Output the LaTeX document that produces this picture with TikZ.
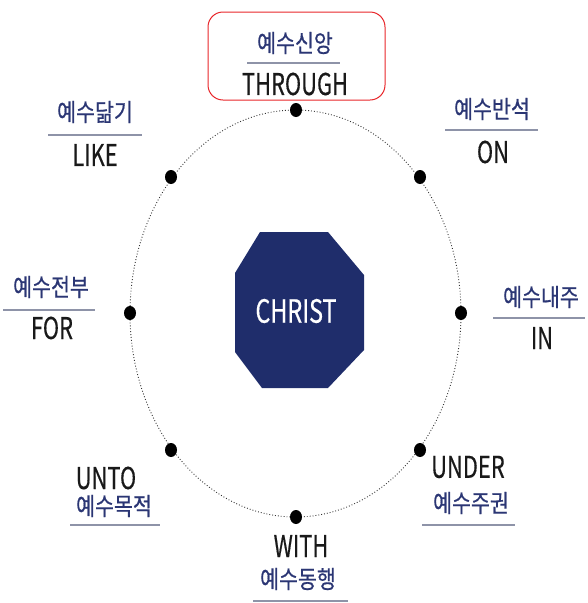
\documentclass[tikz,border=0pt]{standalone}
\usepackage{fontspec}
\newfontfamily\kr{Noto Sans CJK KR}[FakeStretch=0.84,FakeBold=0.6]
\newfontfamily\la{Noto Sans CJK KR}[FakeStretch=0.73,FakeBold=0.4]
\definecolor{navy}{HTML}{1F2D6B}
\definecolor{krblue}{HTML}{2B3674}
\definecolor{sepgray}{HTML}{8E93A8}
\definecolor{boxred}{HTML}{E8262A}
\tikzset{
  krlab/.style={font=\kr\fontsize{24.5}{26}\selectfont, text=krblue, inner sep=0pt},
  lalab/.style={font=\la\fontsize{30}{32}\selectfont, text=black!90, inner sep=0pt},
  sepline/.style={draw=sepgray, line width=1.1pt},
  dotnode/.style={fill=black, ellipse, minimum width=12pt, minimum height=14pt, inner sep=0pt},
}
\usetikzlibrary{shapes.geometric}
\begin{document}
\begin{tikzpicture}[x=1pt,y=-1pt]
\useasboundingbox (0,0) rectangle (587,603);
% top box
\draw[boxred, line width=1pt, rounded corners=15pt] (208,12) rectangle (385,100);
% ellipse
\draw[black!80, line width=0.9pt, dotted] (295.5,313.5) ellipse [x radius=165.5, y radius=203.5];
% dots
\node[dotnode] (d1) at (296,110) {};
\node[dotnode] (d2) at (420,177) {};
\node[dotnode] (d3) at (461,313) {};
\node[dotnode] (d4) at (420,450) {};
\node[dotnode] (d5) at (296,517) {};
\node[dotnode] (d6) at (171,450) {};
\node[dotnode] (d7) at (130,313) {};
\node[dotnode] (d8) at (171,177) {};
% octagon
\fill[navy] (260,232) -- (328,232) -- (364,275) -- (364,350) -- (328,388) -- (262,388) -- (235,352) -- (235,273) -- cycle;
\node[font=\la\fontsize{32}{34}\selectfont, text=white, inner sep=0pt] (christ) at (296,311) {CHRIST};
% top
\node[krlab] (k1) at (295,43) {예수신앙};
\draw[sepline] (247,63) -- (340,63);
\node[lalab] (l1) at (295,84) {THROUGH};
% top-left
\node[krlab] (k8) at (95,112) {예수닮기};
\draw[sepline] (48,135) -- (142,135);
\node[lalab] (l8) at (95,155) {LIKE};
% top-right
\node[krlab] (k2) at (492,109) {예수반석};
\draw[sepline] (445,130) -- (538,130);
\node[lalab] (l2) at (493,152) {ON};
% left
\node[krlab] (k7) at (51,287) {예수전부};
\draw[sepline] (3,310) -- (95,310);
\node[lalab] (l7) at (52,328) {FOR};
% right
\node[krlab] (k3) at (541,297) {예수내주};
\draw[sepline] (493,318) -- (585,318);
\node[lalab] (l3) at (542,338) {IN};
% bottom-left
\node[lalab] (l6) at (106,478) {UNTO};
\node[krlab] (k6) at (114,506) {예수목적};
\draw[sepline] (70,525) -- (160,525);
% bottom-right
\node[lalab] (l4) at (468,467) {UNDER};
\node[krlab] (k4) at (471,503) {예수주권};
\draw[sepline] (422,525) -- (515,525);
% bottom
\node[lalab] (l5) at (301,546) {WITH};
\node[krlab] (k5) at (298,579) {예수동행};
\draw[sepline] (253,601) -- (348,601);
\end{tikzpicture}
\end{document}
